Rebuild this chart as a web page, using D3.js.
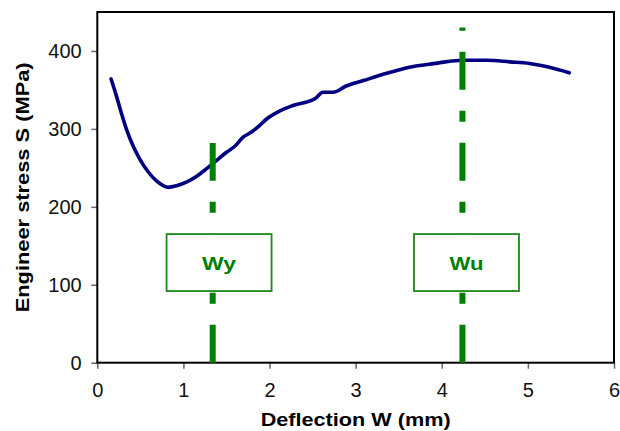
<!DOCTYPE html>
<html>
<head>
<meta charset="utf-8">
<script src="https://cdn.jsdelivr.net/npm/d3@7"></script>
<style>
  body { margin: 0; background: #fff; }
  text { font-family: "Liberation Sans", Arial, sans-serif; }
</style>
</head>
<body>
<div id="vis"></div>
<script>
// curve
var deflection = [0.16,0.22,0.28,0.34,0.42,0.50,0.59,0.69,0.77,0.82,0.92,1.04,1.15,1.27,1.39,1.50,1.60,1.69,1.79,1.88,1.97,2.12,2.27,2.53,2.62,2.74,2.89,3.09,3.32,3.51,3.67,3.86,3.98,4.25,4.52,4.79,5.02,5.25,5.48];
var stress = [364,343,320,299,277,260,245,233,227,225,227,232,239,249,260,270,278,289,296,304,313,323,330,339,347,347,355,362,370,376,380,383,385,388,388,386,384,379,372];

var xTicks = [0,1,2,3,4,5,6];
var yTicks = [0,100,200,300,400];

// marker lines (Wy, Wu)
var markNames = ["Wy","Wu"];
var markX = [1.34, 4.24];
var markTop = [282, 430];
var boxCenterX = [1.414, 4.287];
var boxCenterY = [128.5, 128.5];

gen_vis();

function gen_vis()
{
	var w = 620, h = 431;
	var pL = 97.3, pR = 614, pT = 12, pB = 362.7;

	var svg = d3.select("#vis")
		.append("svg")
		.attr("width", w)
		.attr("height", h);

	var x = d3.scaleLinear().domain([0,6]).range([pL,pR]);
	var y = d3.scaleLinear().domain([0,450]).range([pB,pT]);

	// axes
	var xAxis = svg.append("g")
		.attr("transform","translate(0,"+pB+")")
		.call(d3.axisBottom(x).tickValues(xTicks).tickSize(6).tickPadding(14).tickFormat(d3.format("d")));
	var yAxis = svg.append("g")
		.attr("transform","translate("+pL+",0)")
		.call(d3.axisLeft(y).tickValues(yTicks).tickSize(6).tickPadding(9.6).tickFormat(d3.format("d")));

	[xAxis, yAxis].forEach(function(a){
		a.select(".domain").remove();
		a.selectAll(".tick line").attr("stroke","#666").attr("stroke-width",1.5);
		a.selectAll(".tick text")
			.attr("fill","#111")
			.style("font-size","20px")
			.style("font-family","'Liberation Sans', Arial, sans-serif");
	});

	// plot frame
	svg.append("rect")
		.attr("x",pL).attr("y",pT)
		.attr("width",pR-pL).attr("height",pB-pT)
		.attr("fill","none")
		.attr("stroke","#000")
		.attr("stroke-width",2);

	// stress curve
	var pts = deflection.map(function(d,i){ return [d, stress[i]]; });
	var line = d3.line()
		.x(function(d){ return x(d[0]); })
		.y(function(d){ return y(d[1]); })
		.curve(d3.curveMonotoneX);

	svg.append("path")
		.datum(pts)
		.attr("d", line)
		.attr("fill","none")
		.attr("stroke","#000080")
		.attr("stroke-width",3.6)
		.attr("stroke-linejoin","round")
		.attr("stroke-linecap","round");

	// dash-dot marker lines, drawn bottom up so the pattern starts at the axis
	svg.selectAll("line.mark")
		.data(markX)
		.enter()
		.append("line")
		.attr("class","mark")
		.attr("x1",function(d){ return x(d); })
		.attr("x2",function(d){ return x(d); })
		.attr("y1",y(0))
		.attr("y2",function(d,i){ return y(markTop[i]); })
		.attr("stroke","#008000")
		.attr("stroke-width",6)
		.attr("stroke-dasharray","38,21,11,21");

	// label boxes
	var boxW = 105, boxH = 57;
	var boxes = svg.selectAll("g.box")
		.data(markNames)
		.enter()
		.append("g")
		.attr("class","box")
		.attr("transform",function(d,i){ return "translate("+x(boxCenterX[i])+","+y(boxCenterY[i])+")"; });

	boxes.append("rect")
		.attr("x",-boxW/2).attr("y",-boxH/2)
		.attr("width",boxW).attr("height",boxH)
		.attr("fill","#fff")
		.attr("stroke","#1a8a1a")
		.attr("stroke-width",1.8);

	boxes.append("text")
		.attr("text-anchor","middle")
		.attr("y",7)
		.attr("fill","#008000")
		.style("font-size","19px")
		.style("font-weight","bold")
		.attr("textLength",34)
		.attr("lengthAdjust","spacingAndGlyphs")
		.text(function(d){ return d; });

	// axis titles
	svg.append("text")
		.attr("x",(pL+pR)/2)
		.attr("y",426)
		.attr("text-anchor","middle")
		.style("font-size","18px")
		.style("font-weight","bold")
		.attr("textLength",190)
		.attr("lengthAdjust","spacingAndGlyphs")
		.text("Deflection W (mm)");

	svg.append("text")
		.attr("transform","translate(28.5,"+((pT+pB)/2)+") rotate(-90)")
		.attr("text-anchor","middle")
		.style("font-size","19px")
		.style("font-weight","bold")
		.attr("textLength",250)
		.attr("lengthAdjust","spacingAndGlyphs")
		.text("Engineer stress S (MPa)");
}
</script>
</body>
</html>
